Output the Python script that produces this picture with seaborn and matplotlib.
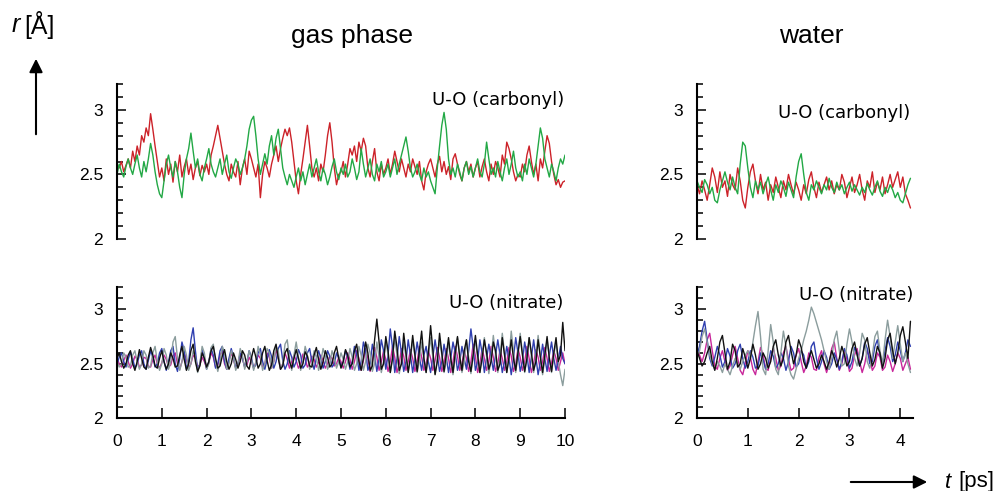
import numpy as np
import pandas as pd
import matplotlib
matplotlib.use("Agg")
import matplotlib.pyplot as plt
import seaborn as sns
from matplotlib.ticker import MultipleLocator
from matplotlib.patches import FancyArrowPatch

# ---------------- data ----------------
gas_dt = 0.05     # ps between samples, gas phase
water_dt = 0.05   # ps between samples, water

gas_carbonyl_red = [
    2.58, 2.55, 2.60, 2.52, 2.57, 2.62, 2.55, 2.68, 2.60, 2.72, 2.65, 2.80, 2.75, 2.86, 2.80, 2.97, 2.85, 2.72, 2.60, 2.48,
    2.55, 2.45, 2.62, 2.50, 2.58, 2.44, 2.60, 2.52, 2.65, 2.48, 2.56, 2.62, 2.50, 2.58, 2.46, 2.55, 2.60, 2.49, 2.57, 2.52,
    2.58, 2.50, 2.65, 2.72, 2.80, 2.88, 2.78, 2.68, 2.58, 2.50, 2.45, 2.58, 2.52, 2.48, 2.60, 2.42, 2.55, 2.62, 2.50, 2.68,
    2.62, 2.55, 2.48, 2.58, 2.32, 2.50, 2.60, 2.55, 2.48, 2.58, 2.65, 2.72, 2.60, 2.70, 2.78, 2.85, 2.80, 2.86, 2.75, 2.60,
    2.45, 2.35, 2.50, 2.62, 2.75, 2.88, 2.72, 2.55, 2.48, 2.55, 2.45, 2.58, 2.52, 2.65, 2.80, 2.90, 2.75, 2.55, 2.42, 2.50,
    2.52, 2.60, 2.48, 2.58, 2.70, 2.65, 2.72, 2.60, 2.75, 2.68, 2.78, 2.72, 2.55, 2.48, 2.60, 2.70, 2.52, 2.45, 2.58, 2.50,
    2.55, 2.62, 2.50, 2.58, 2.68, 2.60, 2.52, 2.62, 2.55, 2.48, 2.58, 2.52, 2.62, 2.56, 2.50, 2.60, 2.45, 2.38, 2.52, 2.58,
    2.62, 2.55, 2.48, 2.58, 2.64, 2.52, 2.60, 2.50, 2.56, 2.46, 2.62, 2.66, 2.58, 2.50, 2.45, 2.55, 2.60, 2.52, 2.58, 2.48,
    2.55, 2.60, 2.48, 2.56, 2.62, 2.52, 2.45, 2.58, 2.50, 2.60, 2.55, 2.48, 2.65, 2.58, 2.75, 2.70, 2.62, 2.52, 2.45, 2.50,
    2.48, 2.58, 2.52, 2.65, 2.72, 2.60, 2.50, 2.58, 2.45, 2.62, 2.55, 2.68, 2.80, 2.74, 2.60, 2.50, 2.42, 2.46, 2.40, 2.44, 2.45,
]
gas_carbonyl_green = [
    2.50, 2.58, 2.52, 2.48, 2.56, 2.62, 2.55, 2.50, 2.58, 2.65, 2.55, 2.48, 2.60, 2.52, 2.62, 2.74, 2.65, 2.52, 2.42, 2.35,
    2.32, 2.45, 2.58, 2.65, 2.55, 2.48, 2.60, 2.52, 2.40, 2.32, 2.50, 2.62, 2.70, 2.82, 2.68, 2.55, 2.62, 2.50, 2.45, 2.55,
    2.62, 2.70, 2.58, 2.52, 2.48, 2.55, 2.62, 2.50, 2.58, 2.65, 2.52, 2.47, 2.55, 2.62, 2.58, 2.50, 2.55, 2.62, 2.72, 2.85,
    2.92, 2.95, 2.80, 2.62, 2.50, 2.58, 2.66, 2.58, 2.72, 2.80, 2.65, 2.78, 2.85, 2.70, 2.55, 2.48, 2.42, 2.50, 2.45, 2.40,
    2.48, 2.55, 2.45, 2.52, 2.42, 2.50, 2.58, 2.48, 2.55, 2.62, 2.52, 2.45, 2.55, 2.50, 2.42, 2.48, 2.56, 2.62, 2.52, 2.46,
    2.55, 2.50, 2.58, 2.48, 2.52, 2.62, 2.55, 2.46, 2.52, 2.70, 2.58, 2.48, 2.55, 2.62, 2.50, 2.45, 2.58, 2.52, 2.60, 2.48,
    2.52, 2.58, 2.48, 2.55, 2.62, 2.50, 2.58, 2.65, 2.72, 2.79, 2.68, 2.55, 2.48, 2.52, 2.58, 2.50, 2.45, 2.55, 2.48, 2.52,
    2.45, 2.40, 2.35, 2.55, 2.72, 2.88, 2.98, 2.85, 2.62, 2.50, 2.55, 2.48, 2.58, 2.52, 2.45, 2.55, 2.60, 2.50, 2.56, 2.48,
    2.55, 2.62, 2.52, 2.48, 2.58, 2.75, 2.62, 2.50, 2.55, 2.48, 2.60, 2.52, 2.45, 2.55, 2.62, 2.50, 2.58, 2.68, 2.55, 2.48,
    2.52, 2.45, 2.58, 2.50, 2.62, 2.55, 2.48, 2.58, 2.72, 2.86, 2.78, 2.62, 2.55, 2.48, 2.58, 2.52, 2.45, 2.55, 2.62, 2.58, 2.65,
]

gas_nitrate_black = [
    2.55, 2.60, 2.52, 2.46, 2.50, 2.58, 2.62, 2.50, 2.44, 2.52, 2.63, 2.55, 2.47, 2.45, 2.56, 2.65, 2.58, 2.48, 2.46, 2.55,
    2.62, 2.52, 2.45, 2.50, 2.60, 2.55, 2.47, 2.48, 2.58, 2.66, 2.54, 2.44, 2.50, 2.62, 2.68, 2.52, 2.43, 2.48, 2.60, 2.55,
    2.47, 2.52, 2.62, 2.66, 2.55, 2.46, 2.48, 2.57, 2.63, 2.52, 2.45, 2.50, 2.60, 2.54, 2.46, 2.52, 2.62, 2.58, 2.48, 2.45,
    2.55, 2.64, 2.56, 2.46, 2.50, 2.60, 2.66, 2.53, 2.44, 2.49, 2.62, 2.68, 2.55, 2.45, 2.48, 2.60, 2.64, 2.52, 2.46, 2.55,
    2.63, 2.55, 2.46, 2.50, 2.61, 2.57, 2.48, 2.47, 2.58, 2.65, 2.54, 2.45, 2.52, 2.62, 2.56, 2.47, 2.50, 2.60, 2.66, 2.55,
    2.46, 2.52, 2.63, 2.58, 2.47, 2.50, 2.62, 2.68, 2.52, 2.44, 2.55, 2.70, 2.60, 2.44, 2.48, 2.72, 2.91, 2.70, 2.45, 2.50,
    2.75, 2.62, 2.42, 2.55, 2.80, 2.65, 2.44, 2.50, 2.78, 2.60, 2.42, 2.56, 2.76, 2.58, 2.43, 2.62, 2.80, 2.55, 2.42, 2.60,
    2.85, 2.62, 2.40, 2.52, 2.78, 2.60, 2.43, 2.58, 2.74, 2.55, 2.42, 2.60, 2.75, 2.56, 2.44, 2.62, 2.72, 2.52, 2.43, 2.58,
    2.76, 2.58, 2.42, 2.55, 2.72, 2.60, 2.45, 2.52, 2.70, 2.62, 2.44, 2.50, 2.74, 2.58, 2.42, 2.56, 2.72, 2.55, 2.44, 2.60,
    2.75, 2.58, 2.43, 2.55, 2.74, 2.60, 2.44, 2.52, 2.72, 2.56, 2.42, 2.58, 2.75, 2.55, 2.43, 2.60, 2.74, 2.52, 2.58, 2.88, 2.62,
]
gas_nitrate_blue = [
    2.50, 2.56, 2.60, 2.52, 2.47, 2.54, 2.61, 2.55, 2.46, 2.50, 2.58, 2.62, 2.50, 2.45, 2.53, 2.62, 2.56, 2.47, 2.50, 2.60,
    2.64, 2.52, 2.44, 2.52, 2.62, 2.66, 2.50, 2.43, 2.55, 2.70, 2.62, 2.45, 2.52, 2.72, 2.83, 2.62, 2.44, 2.50, 2.63, 2.55,
    2.45, 2.52, 2.64, 2.58, 2.46, 2.50, 2.62, 2.66, 2.52, 2.45, 2.55, 2.64, 2.56, 2.46, 2.50, 2.60, 2.55, 2.47, 2.52, 2.62,
    2.56, 2.46, 2.49, 2.60, 2.64, 2.52, 2.45, 2.54, 2.63, 2.57, 2.46, 2.52, 2.64, 2.68, 2.53, 2.45, 2.50, 2.62, 2.56, 2.47,
    2.52, 2.63, 2.58, 2.46, 2.49, 2.60, 2.64, 2.52, 2.45, 2.55, 2.62, 2.55, 2.46, 2.52, 2.62, 2.57, 2.47, 2.50, 2.60, 2.55,
    2.47, 2.52, 2.62, 2.56, 2.45, 2.52, 2.66, 2.58, 2.44, 2.52, 2.70, 2.62, 2.44, 2.50, 2.68, 2.58, 2.43, 2.55, 2.72, 2.62,
    2.45, 2.58, 2.82, 2.65, 2.42, 2.55, 2.75, 2.60, 2.43, 2.52, 2.72, 2.58, 2.42, 2.55, 2.70, 2.56, 2.44, 2.58, 2.66, 2.52,
    2.42, 2.56, 2.72, 2.58, 2.43, 2.52, 2.68, 2.56, 2.42, 2.55, 2.70, 2.60, 2.44, 2.52, 2.66, 2.55, 2.45, 2.62, 2.82, 2.65,
    2.44, 2.52, 2.72, 2.60, 2.42, 2.55, 2.68, 2.56, 2.44, 2.58, 2.72, 2.58, 2.42, 2.52, 2.66, 2.55, 2.40, 2.55, 2.74, 2.60,
    2.43, 2.52, 2.70, 2.58, 2.42, 2.56, 2.72, 2.56, 2.40, 2.52, 2.68, 2.55, 2.43, 2.58, 2.70, 2.55, 2.44, 2.54, 2.66, 2.55, 2.50,
]
gas_nitrate_magenta = [
    2.55, 2.50, 2.47, 2.53, 2.58, 2.52, 2.46, 2.50, 2.57, 2.54, 2.47, 2.49, 2.56, 2.55, 2.48, 2.47, 2.54, 2.58, 2.50, 2.46,
    2.51, 2.58, 2.54, 2.47, 2.49, 2.57, 2.60, 2.50, 2.45, 2.52, 2.60, 2.54, 2.46, 2.50, 2.58, 2.55, 2.47, 2.49, 2.56, 2.52,
    2.46, 2.51, 2.60, 2.56, 2.47, 2.48, 2.58, 2.62, 2.50, 2.45, 2.53, 2.60, 2.54, 2.46, 2.50, 2.58, 2.55, 2.47, 2.49, 2.56,
    2.52, 2.46, 2.51, 2.58, 2.55, 2.47, 2.50, 2.60, 2.56, 2.46, 2.52, 2.63, 2.56, 2.45, 2.50, 2.60, 2.54, 2.46, 2.52, 2.58,
    2.53, 2.46, 2.50, 2.59, 2.55, 2.47, 2.50, 2.57, 2.54, 2.47, 2.51, 2.58, 2.53, 2.46, 2.50, 2.57, 2.55, 2.48, 2.50, 2.56,
    2.52, 2.46, 2.52, 2.60, 2.54, 2.45, 2.52, 2.62, 2.55, 2.44, 2.53, 2.64, 2.55, 2.43, 2.52, 2.65, 2.56, 2.44, 2.52, 2.62,
    2.54, 2.43, 2.52, 2.66, 2.56, 2.42, 2.50, 2.64, 2.57, 2.44, 2.52, 2.63, 2.55, 2.43, 2.52, 2.66, 2.56, 2.44, 2.50, 2.62,
    2.55, 2.44, 2.53, 2.65, 2.56, 2.43, 2.51, 2.64, 2.55, 2.42, 2.52, 2.66, 2.57, 2.44, 2.50, 2.62, 2.55, 2.43, 2.52, 2.68,
    2.57, 2.42, 2.50, 2.64, 2.55, 2.44, 2.52, 2.66, 2.56, 2.43, 2.50, 2.63, 2.55, 2.44, 2.52, 2.65, 2.57, 2.43, 2.50, 2.64,
    2.56, 2.44, 2.52, 2.66, 2.55, 2.42, 2.50, 2.63, 2.56, 2.44, 2.52, 2.65, 2.55, 2.43, 2.51, 2.62, 2.55, 2.44, 2.52, 2.60, 2.50,
]
gas_nitrate_gray = [
    2.52, 2.47, 2.50, 2.60, 2.56, 2.47, 2.48, 2.58, 2.62, 2.52, 2.45, 2.50, 2.62, 2.58, 2.46, 2.48, 2.60, 2.66, 2.52, 2.44,
    2.50, 2.64, 2.58, 2.45, 2.52, 2.70, 2.75, 2.55, 2.44, 2.52, 2.66, 2.58, 2.44, 2.50, 2.62, 2.56, 2.42, 2.50, 2.66, 2.60,
    2.45, 2.50, 2.65, 2.68, 2.52, 2.43, 2.52, 2.66, 2.60, 2.45, 2.50, 2.62, 2.56, 2.44, 2.50, 2.64, 2.58, 2.45, 2.52, 2.62,
    2.54, 2.44, 2.52, 2.66, 2.58, 2.44, 2.50, 2.64, 2.60, 2.46, 2.52, 2.66, 2.62, 2.45, 2.50, 2.68, 2.72, 2.55, 2.44, 2.58,
    2.70, 2.56, 2.44, 2.52, 2.66, 2.58, 2.45, 2.50, 2.62, 2.56, 2.44, 2.52, 2.64, 2.57, 2.45, 2.50, 2.62, 2.55, 2.46, 2.52,
    2.60, 2.54, 2.45, 2.52, 2.64, 2.56, 2.44, 2.50, 2.66, 2.58, 2.44, 2.52, 2.68, 2.60, 2.43, 2.50, 2.70, 2.56, 2.42, 2.52,
    2.72, 2.58, 2.42, 2.55, 2.74, 2.58, 2.41, 2.52, 2.70, 2.56, 2.43, 2.55, 2.72, 2.57, 2.42, 2.52, 2.70, 2.55, 2.42, 2.58,
    2.74, 2.56, 2.41, 2.55, 2.72, 2.58, 2.42, 2.52, 2.70, 2.55, 2.40, 2.56, 2.74, 2.58, 2.42, 2.52, 2.72, 2.56, 2.41, 2.58,
    2.72, 2.55, 2.42, 2.58, 2.74, 2.56, 2.41, 2.55, 2.76, 2.58, 2.42, 2.56, 2.78, 2.60, 2.42, 2.55, 2.80, 2.62, 2.42, 2.58,
    2.78, 2.60, 2.42, 2.55, 2.74, 2.57, 2.42, 2.56, 2.76, 2.58, 2.40, 2.55, 2.72, 2.56, 2.42, 2.58, 2.70, 2.52, 2.40, 2.30, 2.45,
]

water_carbonyl_red = [
    2.42, 2.35, 2.45, 2.38, 2.30, 2.42, 2.55, 2.48, 2.36, 2.52, 2.40, 2.45, 2.33, 2.50, 2.42, 2.38, 2.55, 2.45, 2.30, 2.24,
    2.40, 2.52, 2.58, 2.45, 2.35, 2.50, 2.38, 2.44, 2.30, 2.42, 2.36, 2.48, 2.40, 2.32, 2.45, 2.38, 2.50, 2.42, 2.35, 2.44,
    2.38, 2.30, 2.42, 2.35, 2.46, 2.52, 2.40, 2.32, 2.44, 2.36, 2.42, 2.48, 2.38, 2.45, 2.35, 2.42, 2.38, 2.50, 2.44, 2.32,
    2.40, 2.48, 2.36, 2.42, 2.50, 2.38, 2.30, 2.45, 2.40, 2.52, 2.36, 2.44, 2.38, 2.48, 2.35, 2.42, 2.50, 2.40, 2.46, 2.52,
    2.40, 2.48, 2.35, 2.30, 2.24,
]
water_carbonyl_green = [
    2.45, 2.40, 2.36, 2.46, 2.42, 2.35, 2.40, 2.30, 2.28, 2.38, 2.45, 2.52, 2.44, 2.38, 2.48, 2.40, 2.35, 2.58, 2.75, 2.72,
    2.55, 2.40, 2.32, 2.45, 2.38, 2.44, 2.35, 2.42, 2.48, 2.38, 2.30, 2.42, 2.36, 2.45, 2.40, 2.33, 2.44, 2.38, 2.32, 2.48,
    2.60, 2.66, 2.50, 2.36, 2.30, 2.42, 2.38, 2.45, 2.40, 2.35, 2.42, 2.38, 2.47, 2.40, 2.36, 2.44, 2.38, 2.42, 2.35, 2.40,
    2.44, 2.37, 2.42, 2.38, 2.34, 2.40, 2.36, 2.43, 2.38, 2.34, 2.40, 2.45, 2.37, 2.33, 2.40, 2.36, 2.42, 2.38, 2.32, 2.36,
    2.30, 2.28, 2.35, 2.42, 2.47,
]

water_nitrate_black = [
    2.62, 2.55, 2.48, 2.52, 2.60, 2.66, 2.52, 2.44, 2.55, 2.70, 2.76, 2.60, 2.45, 2.52, 2.68, 2.62, 2.47, 2.50, 2.64, 2.56,
    2.46, 2.55, 2.68, 2.58, 2.45, 2.50, 2.60, 2.55, 2.46, 2.52, 2.66, 2.72, 2.58, 2.48, 2.55, 2.70, 2.76, 2.62, 2.50, 2.58,
    2.72, 2.65, 2.52, 2.46, 2.55, 2.62, 2.54, 2.46, 2.50, 2.58, 2.52, 2.45, 2.52, 2.62, 2.56, 2.47, 2.55, 2.66, 2.58, 2.48,
    2.52, 2.64, 2.70, 2.58, 2.48, 2.55, 2.68, 2.74, 2.60, 2.48, 2.54, 2.66, 2.60, 2.46, 2.55, 2.72, 2.78, 2.62, 2.50, 2.60,
    2.76, 2.84, 2.70, 2.55, 2.89,
]
water_nitrate_blue = [
    2.58, 2.66, 2.80, 2.89, 2.72, 2.55, 2.48, 2.56, 2.66, 2.58, 2.47, 2.52, 2.64, 2.57, 2.46, 2.50, 2.62, 2.68, 2.55, 2.46,
    2.52, 2.62, 2.56, 2.46, 2.48, 2.60, 2.54, 2.45, 2.50, 2.62, 2.57, 2.46, 2.50, 2.60, 2.55, 2.44, 2.52, 2.66, 2.60, 2.47,
    2.50, 2.62, 2.58, 2.46, 2.52, 2.66, 2.70, 2.55, 2.45, 2.52, 2.62, 2.56, 2.45, 2.50, 2.60, 2.54, 2.45, 2.52, 2.64, 2.58,
    2.46, 2.52, 2.65, 2.60, 2.48, 2.55, 2.70, 2.64, 2.50, 2.52, 2.66, 2.72, 2.58, 2.50, 2.62, 2.74, 2.66, 2.52, 2.58, 2.70,
    2.62, 2.52, 2.60, 2.72, 2.66,
]
water_nitrate_magenta = [
    2.66, 2.58, 2.52, 2.60, 2.72, 2.78, 2.62, 2.48, 2.45, 2.55, 2.62, 2.52, 2.44, 2.48, 2.58, 2.66, 2.55, 2.44, 2.40, 2.50,
    2.62, 2.56, 2.45, 2.40, 2.52, 2.65, 2.58, 2.46, 2.44, 2.55, 2.64, 2.55, 2.44, 2.48, 2.60, 2.66, 2.54, 2.44, 2.46, 2.58,
    2.64, 2.52, 2.42, 2.48, 2.60, 2.56, 2.45, 2.44, 2.56, 2.62, 2.50, 2.42, 2.50, 2.64, 2.70, 2.55, 2.44, 2.50, 2.62, 2.54,
    2.43, 2.46, 2.58, 2.64, 2.52, 2.42, 2.50, 2.62, 2.55, 2.44, 2.48, 2.60, 2.56, 2.44, 2.47, 2.58, 2.52, 2.43, 2.50, 2.60,
    2.55, 2.44, 2.50, 2.56, 2.45,
]
water_nitrate_gray = [
    2.55, 2.62, 2.75, 2.82, 2.70, 2.58, 2.50, 2.45, 2.52, 2.48, 2.42, 2.50, 2.45, 2.40, 2.48, 2.55, 2.50, 2.45, 2.52, 2.58,
    2.62, 2.55, 2.70, 2.85, 2.98, 2.75, 2.45, 2.40, 2.62, 2.86, 2.70, 2.45, 2.40, 2.60, 2.80, 2.66, 2.48, 2.40, 2.36, 2.45,
    2.55, 2.62, 2.72, 2.80, 2.90, 3.02, 2.96, 2.88, 2.80, 2.72, 2.62, 2.52, 2.45, 2.55, 2.72, 2.80, 2.62, 2.48, 2.50, 2.68,
    2.82, 2.70, 2.55, 2.48, 2.60, 2.78, 2.72, 2.52, 2.46, 2.58, 2.75, 2.80, 2.62, 2.50, 2.72, 2.90, 2.75, 2.55, 2.70, 2.85,
    2.68, 2.52, 2.60, 2.50, 2.42,
]

y_ticks = [2, 2.5, 3]
y_tick_labels = ["2", "2.5", "3"]
gas_x_ticks = list(range(0, 11))
water_x_ticks = list(range(0, 5))

colors = {"red": "#cc2229", "green": "#22a845", "blue": "#2f3fb0",
          "magenta": "#c8269a", "gray": "#8b9d9d", "black": "#111111"}

# ---------------- figure ----------------
sns.set_theme(style="white")
plt.rcParams["font.family"] = ["Liberation Sans", "DejaVu Sans"]
plt.rcParams["text.color"] = "black"

W, H = 1008, 491
fig = plt.figure(figsize=(W / 100, H / 100), dpi=100)


def rect(x0, y_top, x1, y_bot):
    return [x0 / W, 1 - y_bot / H, (x1 - x0) / W, (y_bot - y_top) / H]


ax_gt = fig.add_axes(rect(117, 84, 565, 239))
ax_gb = fig.add_axes(rect(117, 287.5, 565, 418.3))
ax_wt = fig.add_axes(rect(697, 84, 913, 239))
ax_wb = fig.add_axes(rect(697, 287.5, 913, 418.3))


def draw(ax, series, dt, xmax, bottom_axis, xticks):
    frames = []
    order = []
    for name, vals in series:
        order.append(name)
        frames.append(pd.DataFrame({"t": np.arange(len(vals)) * dt,
                                    "r": vals, "series": name}))
    df = pd.concat(frames, ignore_index=True)
    sns.lineplot(data=df, x="t", y="r", hue="series", hue_order=order,
                 palette=colors, estimator=None, errorbar=None, legend=False,
                 linewidth=1.0, ax=ax)
    ax.set_xlabel("")
    ax.set_ylabel("")
    ax.set_xlim(0, xmax)
    ax.set_ylim(2.0, 3.2)
    ax.set_facecolor("none")
    for s in ["top", "right"]:
        ax.spines[s].set_visible(False)
    ax.spines["left"].set_color("black")
    ax.spines["left"].set_linewidth(1.5)
    ax.set_yticks(y_ticks)
    ax.set_yticklabels(y_tick_labels)
    ax.yaxis.set_minor_locator(MultipleLocator(0.1))
    ax.tick_params(axis="y", which="major", direction="in", left=True,
                   length=6.5, width=1.1, pad=10, labelsize=12.5,
                   colors="black", labelcolor="black")
    ax.tick_params(axis="y", which="minor", direction="in", left=True,
                   length=4.3, width=1.1, colors="black")
    if bottom_axis:
        ax.spines["bottom"].set_color("black")
        ax.spines["bottom"].set_linewidth(1.5)
        ax.set_xticks(xticks)
        ax.set_xticklabels([str(v) for v in xticks])
        ax.tick_params(axis="x", which="major", direction="in", bottom=True,
                       length=7, width=1.1, pad=11, labelsize=12.5,
                       colors="black", labelcolor="black")
    else:
        ax.spines["bottom"].set_visible(False)
        ax.set_xticks([])


draw(ax_gt, [("red", gas_carbonyl_red), ("green", gas_carbonyl_green)],
     gas_dt, 10, False, gas_x_ticks)
draw(ax_gb, [("magenta", gas_nitrate_magenta), ("blue", gas_nitrate_blue),
             ("gray", gas_nitrate_gray), ("black", gas_nitrate_black)],
     gas_dt, 10, True, gas_x_ticks)
draw(ax_wt, [("red", water_carbonyl_red), ("green", water_carbonyl_green)],
     water_dt, 4.25, False, water_x_ticks)
draw(ax_wb, [("magenta", water_nitrate_magenta), ("blue", water_nitrate_blue),
             ("gray", water_nitrate_gray), ("black", water_nitrate_black)],
     water_dt, 4.25, True, water_x_ticks)

# titles
fig.text(352 / W, 1 - 36 / H, "gas phase", ha="center", va="center",
         fontsize=19, color="black")
fig.text(811 / W, 1 - 36 / H, "water", ha="center", va="center",
         fontsize=19, color="black")

# panel labels
lab_font = dict(fontsize=13, family="DejaVu Sans", ha="right", va="center",
                color="black")
fig.text(564 / W, 1 - 100 / H, "U-O (carbonyl)", **lab_font)
fig.text(910 / W, 1 - 113 / H, "U-O (carbonyl)", **lab_font)
fig.text(563 / W, 1 - 303 / H, "U-O (nitrate)", **lab_font)
fig.text(913 / W, 1 - 295 / H, "U-O (nitrate)", **lab_font)

# axis labels with arrows
fig.text(12 / W, 1 - 25 / H, "r", style="italic", fontsize=18, ha="left",
         va="center", color="black")
fig.text(24 / W, 1 - 25 / H, "[Å]", fontsize=18, ha="left", va="center",
         color="black")
fig.add_artist(FancyArrowPatch((36 / W, 1 - 137 / H), (36 / W, 1 - 56 / H),
                               transform=fig.transFigure, arrowstyle="-|>",
                               mutation_scale=20, color="black", lw=1.5))
fig.text(945 / W, 1 - 482 / H, "t", style="italic", fontsize=16, ha="left",
         va="center", color="black")
fig.text(958 / W, 1 - 482 / H, "[ps]", fontsize=16, ha="left", va="center",
         color="black")
fig.add_artist(FancyArrowPatch((848 / W, 1 - 482 / H), (930 / W, 1 - 482 / H),
                               transform=fig.transFigure, arrowstyle="-|>",
                               mutation_scale=20, color="black", lw=1.5))

fig.savefig("out.png", dpi=100, facecolor="white")
